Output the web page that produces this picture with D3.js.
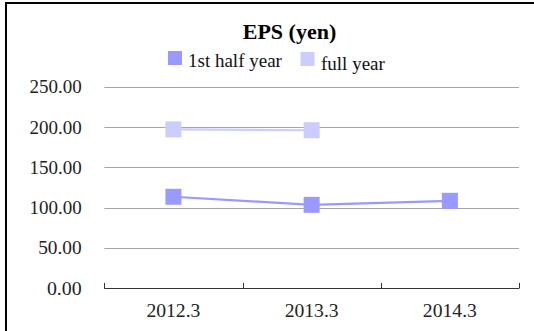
<!DOCTYPE html>
<html><head><meta charset="utf-8">
<script src="https://cdn.jsdelivr.net/npm/d3@7"></script>
<style>body{margin:0;background:#fff}svg{display:block}svg text{font-family:"Liberation Serif";}</style>
</head><body>
<svg id="c" width="534" height="331"></svg>
<script>
const categories = ["2012.3", "2013.3", "2014.3"];
const halfYear = [113.5, 103.5, 108.5];
const fullYear = [197, 196, null];
const yTicks = [0, 50, 100, 150, 200, 250];
const seriesNames = ["1st half year", "full year"];
const colors = ["#9999ff", "#ccccff"];

const svg = d3.select("#c");

// frame
svg.append("rect").attr("x", 6).attr("y", 3).attr("width", 560).attr("height", 360)
  .attr("fill", "#fff").attr("stroke", "#000").attr("stroke-width", 2);

const pLeft = 104.3, pRight = 519, pTop = 86.7, pBottom = 288.3;
const x = d3.scaleBand().domain(categories).range([pLeft, pRight]);
const y = d3.scaleLinear().domain([0, 250]).range([pBottom, pTop]);

// gridlines
svg.append("g").selectAll("line").data(yTicks.filter(d => d > 0)).join("line")
  .attr("x1", pLeft).attr("x2", pRight)
  .attr("y1", d => Math.round(y(d)) + 0.5).attr("y2", d => Math.round(y(d)) + 0.5)
  .attr("stroke", "#a6a6a6").attr("stroke-width", 1);

// y labels
svg.append("g").selectAll("text").data(yTicks).join("text")
  .attr("x", 81.7).attr("y", d => y(d) + 6.5)
  .attr("text-anchor", "end")
  .style("font-size", "18px").attr("fill", "#222")
  .attr("textLength", d => d3.format(".2f")(d).length * 8.7)
  .attr("lengthAdjust", "spacingAndGlyphs")
  .text(d => d3.format(".2f")(d));

// x axis
const xAxis = d3.axisBottom(x).tickSize(0).tickFormat("");
const ax = svg.append("g").attr("transform", `translate(0,${Math.round(pBottom) + 0.5})`).call(xAxis);
ax.select(".domain").attr("stroke", "#333").attr("d", `M${pLeft},0H${pRight}`);
const boundaries = categories.map(c => x(c)).concat([pRight]);
svg.append("g").selectAll("line").data(boundaries).join("line")
  .attr("x1", d => Math.round(d) + 0.5).attr("x2", d => Math.round(d) + 0.5)
  .attr("y1", Math.round(pBottom) - 5).attr("y2", Math.round(pBottom) + 0.5)
  .attr("stroke", "#333").attr("stroke-width", 1);

svg.append("g").selectAll("text").data(categories).join("text")
  .attr("x", d => x(d) + x.bandwidth() / 2).attr("y", 317)
  .attr("text-anchor", "middle")
  .style("font-size", "18px").attr("fill", "#222")
  .attr("textLength", d => d.length * 9)
  .attr("lengthAdjust", "spacingAndGlyphs")
  .text(d => d);

// series
const series = [fullYear, halfYear];
const seriesColors = [colors[1], colors[0]];
series.forEach((vals, i) => {
  const pts = categories.map((c, j) => ({c, v: vals[j]})).filter(d => d.v != null);
  const line = d3.line().x(d => x(d.c) + x.bandwidth() / 2).y(d => y(d.v));
  svg.append("path").datum(pts).attr("d", line)
    .attr("fill", "none").attr("stroke", seriesColors[i]).attr("stroke-width", 2.2);
  svg.append("g").selectAll("rect").data(pts).join("rect")
    .attr("x", d => x(d.c) + x.bandwidth() / 2 - 8)
    .attr("y", d => y(d.v) - 8)
    .attr("width", 16).attr("height", 16)
    .attr("fill", seriesColors[i]);
});

// title
svg.append("text").attr("x", 289.5).attr("y", 39).attr("text-anchor", "middle")
  .style("font-size", "22px").style("font-weight", "bold")
  .attr("fill", "#000").text("EPS (yen)");

// legend
const legendItems = [
  {name: seriesNames[0], color: colors[0], sx: 168, sy: 51, tx: 188, ty: 67},
  {name: seriesNames[1], color: colors[1], sx: 300.5, sy: 52, tx: 321, ty: 70}
];
const lg = svg.append("g");
legendItems.forEach(d => {
  lg.append("rect").attr("x", d.sx).attr("y", d.sy).attr("width", 14).attr("height", 14).attr("fill", d.color);
  lg.append("text").attr("x", d.tx).attr("y", d.ty)
    .style("font-size", "19px").attr("fill", "#111").text(d.name);
});
</script>
</body></html>
